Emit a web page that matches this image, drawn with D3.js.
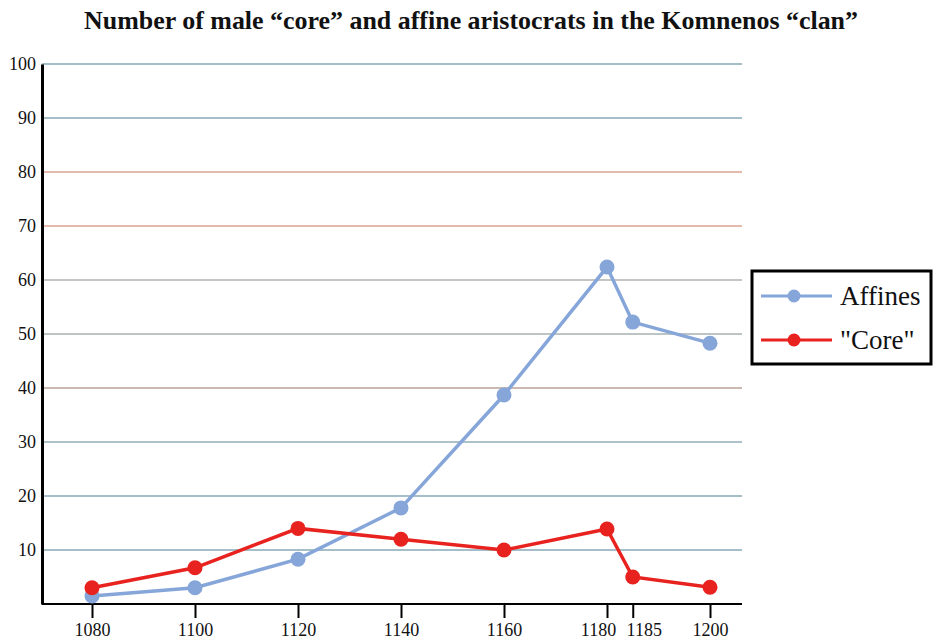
<!DOCTYPE html>
<html>
<head>
<meta charset="utf-8">
<title>Komnenos clan</title>
<script src="https://cdn.jsdelivr.net/npm/d3@7"></script>
<style>
  body { margin: 0; background: #fff; }
  text { font-family: "Liberation Serif", "DejaVu Serif", serif; fill: #111; }
</style>
</head>
<body>
<script>
// data
const years = [1080, 1100, 1120, 1140, 1160, 1180, 1185, 1200];
const affines = [1.5, 3, 8.3, 17.8, 38.7, 62.4, 52.2, 48.3];
const core = [3, 6.7, 14, 12, 10, 13.9, 5, 3.1];
const yTicks = [10, 20, 30, 40, 50, 60, 70, 80, 90, 100];
const gridColors = ["#4d7e93", "#4d7e93", "#5a8494", "#9a7462", "#7c8a8a", "#8a8a88", "#c7775a", "#c7775a", "#4d7e93", "#4d7e93"];
const seriesNames = ["Affines", "\"Core\""];
const seriesColors = ["#86a6da", "#e8231f"];

const W = 934, H = 640;
const plotLeft = 42, plotRight = 742, plotTop = 64, plotBottom = 604;

const svg = d3.select("body").append("svg")
    .attr("width", W)
    .attr("height", H);

const x = d3.scaleLinear().domain([1080, 1200]).range([92, 710]);
const y = d3.scaleLinear().domain([0, 100]).range([plotBottom, plotTop]);

// title
svg.append("text")
    .attr("x", 471)
    .attr("y", 29)
    .attr("text-anchor", "middle")
    .style("font-size", "25px")
    .style("font-weight", "bold")
    .attr("textLength", 774)
    .attr("lengthAdjust", "spacingAndGlyphs")
    .text("Number of male \u201ccore\u201d and affine aristocrats in the Komnenos \u201cclan\u201d");

// gridlines
svg.append("g").selectAll("line")
    .data(yTicks)
    .enter().append("line")
    .attr("x1", plotLeft).attr("x2", plotRight)
    .attr("y1", d => y(d)).attr("y2", d => y(d))
    .attr("stroke", (d, i) => gridColors[i])
    .attr("stroke-width", 1.2);

// y axis
const yAxis = d3.axisLeft(y).tickValues(yTicks).tickSize(0).tickPadding(6);
const yG = svg.append("g")
    .attr("transform", "translate(" + plotLeft + ",0)")
    .call(yAxis);
yG.select(".domain").attr("stroke", "#000").attr("stroke-width", 3);
yG.selectAll("text").style("font-size", "18px").style("font-family", "Liberation Serif, serif");

// x axis
const xAxis = d3.axisBottom(x).tickValues(years).tickFormat(d3.format("d")).tickSize(14).tickPadding(5);
const xG = svg.append("g")
    .attr("transform", "translate(0," + plotBottom + ")")
    .call(xAxis);
xG.select(".domain").attr("d", "M" + plotLeft + ",0H" + plotRight).attr("stroke", "#000").attr("stroke-width", 2);
xG.selectAll(".tick line").attr("stroke", "#000").attr("stroke-width", 2);
xG.selectAll("text")
    .style("font-size", "18px")
    .style("font-family", "Liberation Serif, serif")
    // the two crowded labels are pushed apart as in the original
    .attr("dx", d => d === 1180 ? -9 : d === 1185 ? 11 : 0);

// lines + markers
const line = d3.line()
    .x((d, i) => x(years[i]))
    .y(d => y(d));

[affines, core].forEach(function (series, s) {
    svg.append("path")
        .datum(series)
        .attr("fill", "none")
        .attr("stroke", seriesColors[s])
        .attr("stroke-width", 3.5)
        .attr("d", line);
    svg.append("g").selectAll("circle")
        .data(series)
        .enter().append("circle")
        .attr("cx", (d, i) => x(years[i]))
        .attr("cy", d => y(d))
        .attr("r", 7.5)
        .attr("fill", seriesColors[s]);
});

// legend
const lg = svg.append("g").attr("transform", "translate(752,271)");
lg.append("rect")
    .attr("width", 179).attr("height", 93)
    .attr("fill", "#fff")
    .attr("stroke", "#000")
    .attr("stroke-width", 3);
seriesNames.forEach(function (name, i) {
    const ly = 25 + i * 44;
    lg.append("line")
        .attr("x1", 9).attr("x2", 80)
        .attr("y1", ly).attr("y2", ly)
        .attr("stroke", seriesColors[i])
        .attr("stroke-width", 3);
    lg.append("circle")
        .attr("cx", 42).attr("cy", ly).attr("r", 6.5)
        .attr("fill", seriesColors[i]);
    lg.append("text")
        .attr("x", 88).attr("y", ly + 9)
        .style("font-size", "27px")
        .text(name);
});
</script>
</body>
</html>
